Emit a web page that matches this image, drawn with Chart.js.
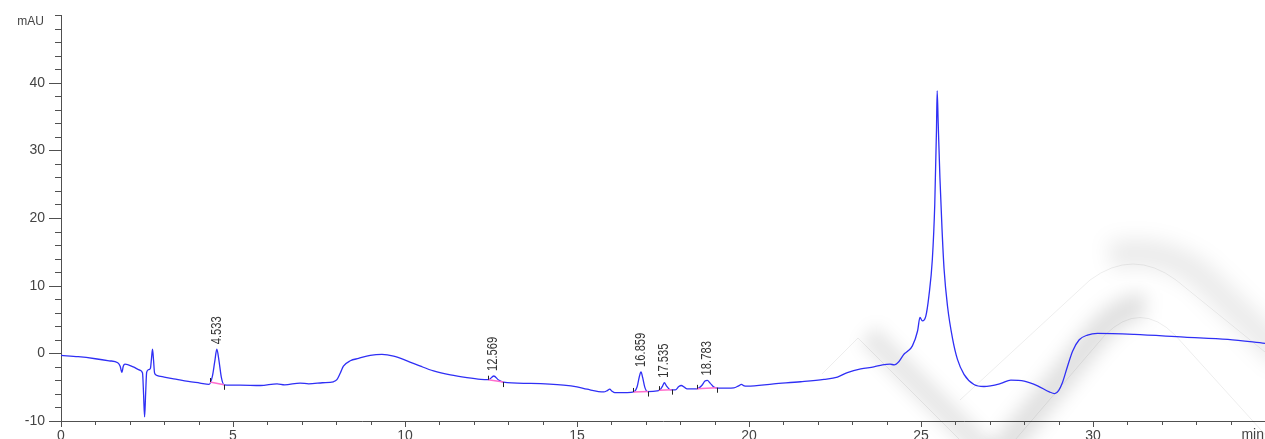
<!DOCTYPE html>
<html>
<head>
<meta charset="utf-8">
<script src="https://cdn.jsdelivr.net/npm/chart.js@4.4.1/dist/chart.umd.min.js"></script>
<style>
  html, body { margin: 0; padding: 0; background: #fff; }
  #wrap { width: 1265px; height: 439px; position: relative; }
</style>
</head>
<body>
<div id="wrap"><canvas id="chromChart"></canvas></div>
<script>
// Chromatogram trace (min / mAU)
const times = [
  0.00, 0.50, 1.00, 1.40, 1.65, 1.72, 1.77, 1.81, 1.86, 2.10, 2.30, 2.37, 2.40, 2.43, 2.46, 2.49,
  2.55, 2.60, 2.63, 2.66, 2.69, 2.72, 2.78, 3.00, 3.37, 3.70, 4.04, 4.30, 4.40, 4.47, 4.53, 4.59,
  4.66, 4.74, 5.20, 5.80, 6.28, 6.50, 6.95, 7.20, 7.60, 7.92, 8.02, 8.12, 8.21, 8.41, 8.65, 8.99,
  9.33, 9.67, 10.06, 10.45, 10.83, 11.32, 11.80, 12.20, 12.43, 12.58, 12.72, 12.86, 13.65, 14.61,
  15.00, 15.29, 15.78, 15.88, 15.95, 16.02, 16.10, 16.46, 16.65, 16.75, 16.81, 16.86, 16.91, 16.97,
  17.05, 17.33, 17.42, 17.49, 17.54, 17.60, 17.70, 17.86, 17.96, 18.03, 18.12, 18.20, 18.49, 18.62,
  18.72, 18.79, 18.87, 18.98, 19.12, 19.56, 19.70, 19.78, 19.86, 19.95, 20.72, 21.50, 22.18, 22.57,
  22.86, 23.25, 23.63, 23.88, 24.10, 24.22, 24.36, 24.51, 24.61, 24.75, 24.90, 24.97, 25.04, 25.14,
  25.23, 25.33, 25.40, 25.45, 25.47, 25.50, 25.55, 25.61, 25.67, 25.77, 25.92, 26.06, 26.25, 26.54,
  26.83, 27.32, 27.61, 28.00, 28.39, 28.73, 28.89, 29.00, 29.11, 29.26, 29.41, 29.60, 29.84, 30.13,
  31.20, 32.65, 33.92, 35.00
];
const absorbance = [
  -0.3, -0.5, -0.8, -1.1, -1.4, -1.9, -2.8, -1.9, -1.6, -2.0, -2.5, -2.9, -6.0, -9.4, -6.0, -2.8,
  -2.4, -2.2, -0.8, 0.6, -1.0, -2.9, -3.25, -3.5, -3.85, -4.15, -4.4, -4.6, -3.4, -1.2, 0.6, -1.0,
  -3.5, -4.65, -4.7, -4.75, -4.5, -4.65, -4.4, -4.5, -4.35, -4.2, -3.9, -2.9, -1.9, -1.1, -0.75, -0.3,
  -0.15, -0.4, -1.1, -1.9, -2.6, -3.2, -3.6, -3.85, -3.9, -3.35, -3.95, -4.25, -4.45, -4.7,
  -4.95, -5.3, -5.7, -5.5, -5.3, -5.6, -5.8, -5.8, -5.7, -4.9, -3.5, -2.75, -3.6, -5.0,
  -5.65, -5.55, -5.35, -4.8, -4.35, -4.8, -5.35, -5.4, -4.9, -4.75, -5.0, -5.25, -5.25, -4.8,
  -4.1, -4.0, -4.4, -5.0, -5.15, -5.1, -4.8, -4.6, -4.8, -4.85, -4.5, -4.2, -3.85, -3.5,
  -2.85, -2.3, -2.0, -1.7, -1.6, -1.7, -1.2, -0.1, 0.3, 1.1, 3.3, 5.3, 4.8, 5.5,
  8.5, 13.9, 22.0, 33.0, 38.8, 34.0, 26.0, 18.5, 12.5, 7.0, 2.1, -0.9, -3.1, -4.6,
  -4.9, -4.45, -3.95, -4.1, -4.8, -5.7, -5.95, -5.5, -4.35, -1.9, 0.35, 2.0, 2.7, 2.95,
  2.8, 2.4, 2.07, 1.48
];

// Integrated peaks
const peakTimes = [4.533, 12.569, 16.859, 17.535, 18.783];
const peakStart = [4.33, 12.42, 16.64, 17.38, 18.48];
const peakEnd   = [4.74, 12.86, 17.07, 17.75, 19.06];

// Axis ticks
const xMajorTicks = [0, 5, 10, 15, 20, 25, 30];
const yMajorTicks = [-10, 0, 10, 20, 30, 40];

const AXIS = '#505050';
const TEXT = '#444';
const FONT = '"Liberation Sans", Arial, sans-serif';

function valueAt(t) {
    for (let i = 1; i < times.length; i++) {
        if (times[i] >= t) {
            const f = (t - times[i - 1]) / (times[i] - times[i - 1]);
            return absorbance[i - 1] + f * (absorbance[i] - absorbance[i - 1]);
        }
    }
    return absorbance[absorbance.length - 1];
}

function peakTop(t) {
    let m = -Infinity;
    times.forEach((x, i) => { if (Math.abs(x - t) < 0.08) m = Math.max(m, absorbance[i]); });
    return m;
}

function softStroke(ctx, draw, width, alpha, blur) {
    ctx.save();
    ctx.filter = 'blur(' + blur + 'px)';
    ctx.strokeStyle = 'rgba(0,0,0,' + alpha + ')';
    ctx.lineWidth = width;
    ctx.lineCap = 'butt';
    ctx.beginPath(); draw(); ctx.stroke();
    ctx.restore();
}

// faint logo watermark behind the trace + ticks and annotations on top
const decor = {
    id: 'decor',
    beforeDatasetsDraw(chart) {
        const ctx = chart.ctx;
        const a = chart.chartArea;
        ctx.save();
        ctx.beginPath(); ctx.rect(a.left, a.top, a.right - a.left, chart.height - a.top); ctx.clip();
        // small chevron
        softStroke(ctx, () => { ctx.moveTo(868, 334); ctx.lineTo(990, 456); }, 24, 0.09, 8);
        // large arch (shade on outer right)
        softStroke(ctx, () => { ctx.moveTo(1110, 256); ctx.quadraticCurveTo(1160, 245, 1200, 275); ctx.lineTo(1285, 358); }, 28, 0.08, 10);
        // inner arch (shade on outer left)
        softStroke(ctx, () => { ctx.moveTo(995, 460); ctx.lineTo(1092, 340); ctx.quadraticCurveTo(1120, 305, 1145, 306); }, 26, 0.12, 9);
        // edge lines
        ctx.strokeStyle = 'rgba(0,0,0,0.07)';
        ctx.lineWidth = 1;
        ctx.beginPath();
        ctx.moveTo(822, 374); ctx.lineTo(858, 338); ctx.lineTo(960, 440);
        ctx.moveTo(960, 400); ctx.lineTo(1090, 280); ctx.quadraticCurveTo(1133, 248, 1176, 280); ctx.lineTo(1265, 352);
        ctx.moveTo(1015, 440); ctx.lineTo(1105, 335); ctx.quadraticCurveTo(1140, 300, 1175, 335); ctx.lineTo(1270, 440);
        ctx.stroke();
        ctx.restore();
    },
    afterDatasetsDraw(chart) {
        const ctx = chart.ctx;
        const xs = chart.scales.x, ys = chart.scales.y;
        ctx.save();
        // integration baselines
        peakStart.forEach((s, i) => {
            const e = peakEnd[i];
            const x1 = xs.getPixelForValue(s), y1 = ys.getPixelForValue(valueAt(s));
            const x2 = xs.getPixelForValue(e), y2 = ys.getPixelForValue(valueAt(e));
            ctx.strokeStyle = 'rgb(255,110,205)';
            ctx.lineWidth = 1.5;
            ctx.beginPath(); ctx.moveTo(x1, y1); ctx.lineTo(x2, y2); ctx.stroke();
            ctx.strokeStyle = '#222';
            ctx.lineWidth = 1;
            ctx.beginPath();
            ctx.moveTo(Math.round(x1) + 0.5, y1); ctx.lineTo(Math.round(x1) + 0.5, y1 - 4);
            ctx.moveTo(Math.round(x2) + 0.5, y2); ctx.lineTo(Math.round(x2) + 0.5, y2 + 5);
            ctx.stroke();
        });
        // retention time labels
        ctx.fillStyle = '#333';
        ctx.font = '14px ' + FONT;
        ctx.textAlign = 'left';
        ctx.textBaseline = 'middle';
        peakTimes.forEach(t => {
            const x = xs.getPixelForValue(t);
            const y = ys.getPixelForValue(peakTop(t)) - 5;
            ctx.save();
            ctx.translate(x, y);
            ctx.rotate(-Math.PI / 2);
            ctx.scale(0.8, 1);
            ctx.fillText(t.toFixed(3), 0, 0);
            ctx.restore();
        });
        // tick marks (minor + longer major)
        ctx.strokeStyle = AXIS;
        ctx.lineWidth = 1;
        ctx.beginPath();
        xs.ticks.forEach(tk => {
            const x = Math.round(xs.getPixelForValue(tk.value)) + 0.5;
            const len = xMajorTicks.includes(tk.value) ? 6 : 4;
            ctx.moveTo(x, xs.top); ctx.lineTo(x, xs.top + len);
        });
        ys.ticks.forEach(tk => {
            const y = Math.round(ys.getPixelForValue(tk.value)) + 0.5;
            const len = yMajorTicks.includes(tk.value) ? 12 : 6;
            ctx.moveTo(ys.right - len, y); ctx.lineTo(ys.right, y);
        });
        ctx.stroke();
        // unit labels
        ctx.fillStyle = TEXT;
        ctx.font = '12px ' + FONT;
        ctx.textAlign = 'right';
        ctx.textBaseline = 'middle';
        ctx.fillText('mAU', 44, ys.getPixelForValue(50) + 7);
        ctx.font = '14px ' + FONT;
        ctx.textBaseline = 'top';
        ctx.fillText('min', 1264, xs.top + 7);
        ctx.restore();
    }
};

new Chart(document.getElementById('chromChart'), {
    type: 'line',
    data: {
        datasets: [{
            data: times.map((t, i) => ({ x: t, y: absorbance[i] })),
            borderColor: '#2f2ff5',
            borderWidth: 1.3,
            pointRadius: 0,
            cubicInterpolationMode: 'monotone',
            fill: false
        }]
    },
    options: {
        responsive: true,
        maintainAspectRatio: false,
        animation: false,
        layout: { autoPadding: false, padding: { top: 15, right: 0, left: 0, bottom: 0 } },
        plugins: { legend: { display: false }, tooltip: { enabled: false } },
        scales: {
            x: {
                type: 'linear', min: 0, max: 35,
                afterFit: s => { s.height = 18; },
                border: { color: AXIS, width: 1 },
                grid: { drawOnChartArea: false, drawTicks: true, tickLength: 7, tickColor: 'rgba(0,0,0,0)' },
                ticks: {
                    stepSize: 1, autoSkip: false, maxRotation: 0, padding: 0,
                    color: TEXT, font: { size: 14, family: FONT },
                    callback: v => (v % 5 === 0 && v < 35) ? v : ''
                }
            },
            y: {
                min: -10, max: 50,
                afterFit: s => { s.width = 61; },
                border: { color: AXIS, width: 1 },
                grid: { drawOnChartArea: false, drawTicks: true, tickLength: 16, tickColor: 'rgba(0,0,0,0)' },
                ticks: {
                    stepSize: 2, autoSkip: false, padding: 0,
                    color: TEXT, font: { size: 14, family: FONT },
                    callback: v => (v % 10 === 0 && v < 50) ? v : ''
                }
            }
        }
    },
    plugins: [decor]
});
</script>
</body>
</html>
